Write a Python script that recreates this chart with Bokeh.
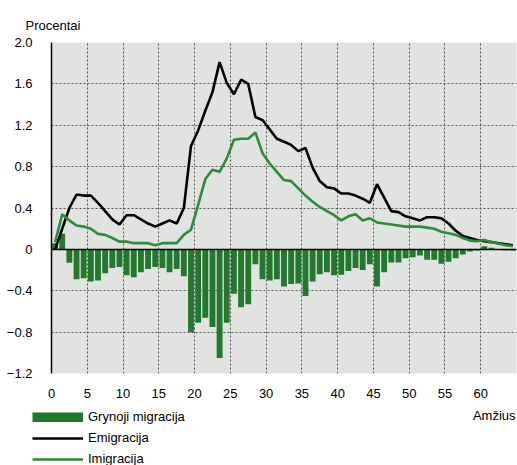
from bokeh.plotting import figure
from bokeh.layouts import column, row
from bokeh.models import Range1d, FixedTicker, Span, Label, Legend, LegendItem
from bokeh.embed import file_html
from bokeh.resources import INLINE

ages = list(range(65))
net = [0.06, 0.15, -0.13, -0.29, -0.28, -0.31, -0.30, -0.23, -0.18, -0.17,
       -0.25, -0.27, -0.22, -0.19, -0.17, -0.18, -0.22, -0.19, -0.26, -0.80,
       -0.71, -0.66, -0.75, -1.05, -0.71, -0.43, -0.56, -0.53, -0.145, -0.29,
       -0.30, -0.29, -0.36, -0.335, -0.33, -0.45, -0.31, -0.24, -0.22, -0.25,
       -0.245, -0.21, -0.18, -0.20, -0.145, -0.36, -0.22, -0.126, -0.126, -0.087,
       -0.077, -0.06, -0.10, -0.10, -0.14, -0.12, -0.087, -0.05, -0.02, -0.01,
       0.03, 0.015, 0.0, -0.01, -0.01]
emig = [0.0, 0.20, 0.40, 0.53, 0.52, 0.52, 0.45, 0.37, 0.29, 0.24,
        0.33, 0.33, 0.29, 0.25, 0.22, 0.25, 0.28, 0.25, 0.40, 1.00,
        1.15, 1.34, 1.52, 1.81, 1.61, 1.50, 1.64, 1.60, 1.28, 1.25,
        1.16, 1.07, 1.04, 1.01, 0.95, 0.98, 0.79, 0.66, 0.60, 0.59,
        0.54, 0.54, 0.52, 0.49, 0.45, 0.63, 0.50, 0.37, 0.36, 0.32,
        0.30, 0.28, 0.31, 0.31, 0.30, 0.25, 0.18, 0.13, 0.11, 0.09,
        0.08, 0.07, 0.06, 0.05, 0.04]
imig = [0.07, 0.34, 0.28, 0.23, 0.22, 0.20, 0.15, 0.14, 0.11, 0.075,
        0.075, 0.06, 0.06, 0.06, 0.04, 0.06, 0.06, 0.06, 0.14, 0.19,
        0.43, 0.68, 0.77, 0.75, 0.88, 1.06, 1.07, 1.07, 1.13, 0.93,
        0.83, 0.75, 0.67, 0.66, 0.59, 0.52, 0.46, 0.41, 0.37, 0.33,
        0.28, 0.32, 0.34, 0.28, 0.30, 0.26, 0.25, 0.24, 0.23, 0.22,
        0.22, 0.22, 0.21, 0.20, 0.17, 0.155, 0.14, 0.11, 0.085, 0.08,
        0.09, 0.07, 0.055, 0.04, 0.03]
x_ticks = list(range(0, 61, 5))
y_ticks = [-1.2, -0.8, -0.4, 0.0, 0.4, 0.8, 1.2, 1.6, 2.0]
y_labels = ["\u22121.2", "\u22120.8", "\u22120.4", "0", "0.4", "0.8", "1.2", "1.6", "2.0"]
series_names = ["Grynoji migracija", "Emigracija", "Imigracija"]

BAR = "#22782f"
GREEN = "#2e8b3d"
FONT = "Liberation Sans"
W = 517
H1 = 400
QH = 465 - H1

xpos = [a + 0.5 for a in ages]

p = figure(width=W, height=H1, output_backend="svg", toolbar_location=None,
           x_range=Range1d(0, 65), y_range=Range1d(-1.2, 2.0),
           min_border_left=51, min_border_right=1, min_border_top=42,
           min_border_bottom=H1 - 373)
p.background_fill_color = "#e0e3df"
p.border_fill_color = "white"
p.outline_line_color = None

p.title.text = "Procentai"
p.title.align = "left"
p.title.offset = -26
p.title.standoff = 19
p.title.text_font = FONT
p.title.text_font_size = "13px"
p.title.text_font_style = "normal"
p.title.text_color = "black"

p.xgrid.ticker = FixedTicker(ticks=x_ticks)
p.ygrid.ticker = FixedTicker(ticks=y_ticks)
for g in (p.xgrid, p.ygrid):
    g.grid_line_color = "#555555"
    g.grid_line_dash = "2 2"
    g.grid_line_width = 1

p.vbar(x=xpos, top=net, bottom=0, width=0.82, fill_color=BAR, line_color=None)
p.add_layout(Span(location=0, dimension="width", line_color="black", line_width=1.5))
p.line(xpos, emig, line_color="black", line_width=2.6)
p.line(xpos, imig, line_color=GREEN, line_width=2.6)

xa = p.xaxis[0]
xa.ticker = FixedTicker(ticks=x_ticks)
xa.axis_line_color = None
xa.major_tick_line_color = None
xa.minor_tick_line_color = None
xa.major_label_standoff = 9
xa.major_label_text_font = FONT
xa.major_label_text_font_size = "13px"
xa.major_label_text_color = "black"

ya = p.yaxis[0]
ya.ticker = FixedTicker(ticks=y_ticks)
ya.major_label_overrides = dict(zip(y_ticks, y_labels))
ya.axis_line_color = "black"
ya.axis_line_width = 1.5
ya.major_tick_line_color = None
ya.minor_tick_line_color = None
ya.major_label_standoff = 13
ya.major_label_text_font = FONT
ya.major_label_text_font_size = "13px"
ya.major_label_text_color = "black"

# lower strip: legend and x-axis name
q = figure(width=W, height=QH, output_backend="svg", toolbar_location=None,
           x_range=Range1d(0, W), y_range=Range1d(QH, 0),
           x_axis_type=None, y_axis_type=None,
           min_border_left=0, min_border_right=0, min_border_top=0, min_border_bottom=0)
q.outline_line_color = None
q.xgrid.visible = False
q.ygrid.visible = False
q.background_fill_color = "white"
q.border_fill_color = "white"

nan = [float("nan")]
d_net = q.line(nan, nan, line_color=BAR, line_width=10, line_cap="butt")
d_em = q.line(nan, nan, line_color="black", line_width=2.6)
d_im = q.line(nan, nan, line_color=GREEN, line_width=2.6)

legend = Legend(items=[LegendItem(label=series_names[0], renderers=[d_net]),
                       LegendItem(label=series_names[1], renderers=[d_em]),
                       LegendItem(label=series_names[2], renderers=[d_im])],
                location=(32, -4), glyph_width=51, glyph_height=10, label_height=21,
                label_standoff=5, spacing=0, padding=0, margin=0,
                border_line_color=None, background_fill_alpha=0,
                label_text_font=FONT, label_text_font_size="13px",
                label_text_color="black")
q.add_layout(legend)
q.add_layout(Label(x=W - 2, y=15, text="Amžius", text_font=FONT, text_align="right",
                   text_font_size="13px", text_baseline="alphabetic", text_color="black"))

open("out.html", "w").write(file_html(column(p, row(q), spacing=0), INLINE))
